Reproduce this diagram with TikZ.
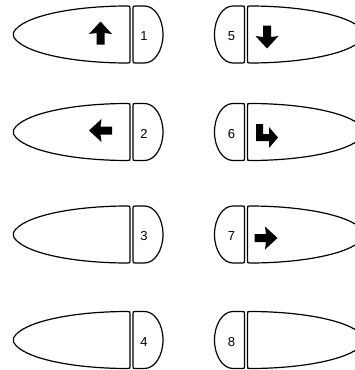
\documentclass[tikz,border=0pt]{standalone}
\usepackage{fontspec}
\setmainfont{Liberation Sans}
\usetikzlibrary{positioning}
\tikzset{
  outline/.style={draw=black, line width=1.2pt, line join=round, fill=white},
  keynum/.style={font=\fontsize{13}{15}\selectfont, inner sep=0pt},
  glyph/.style={fill=black, draw=none},
  pics/keybody/.style={code={
    \draw[outline] (-118,2) .. controls (-110,18) and (-60,28.5) .. (-4,28.5)
      .. controls (-1.5,28.5) .. (-1.5,26) -- (-1.5,-26)
      .. controls (-1.5,-28.5) .. (-4,-28.5)
      .. controls (-60,-28.5) and (-110,-18) .. (-118,-2) -- cycle;
    \draw[outline] (4,28.5) -- (13,28.5)
      arc[start angle=90, end angle=-90, x radius=18.5, y radius=28.5]
      -- (4,-28.5) .. controls (1.5,-28.5) .. (1.5,-26) -- (1.5,26)
      .. controls (1.5,28.5) .. (4,28.5) -- cycle;
  }},
  pics/arrowup/.style={code={
    \fill[glyph] (-4,-11.5) -- (-4,0) -- (-11.5,-1) -- (0,11.5) -- (11.5,-1)
      -- (4,0) -- (4,-11.5) -- cycle;
  }}
}

\begin{document}
\begin{tikzpicture}[x=1pt,y=1pt]
  \useasboundingbox (0,0) rectangle (355,-370);
  \clip (0,0) rectangle (355,-370);
  % keys, left column and mirrored right column
  \foreach \y/\a/\b in {34.5/1/5, 132/2/6, 234.5/3/7, 340/4/8} {
    \pic at (131.5,-\y) {keybody};
    \pic[xscale=-1] at (246,-\y) {keybody};
    \node[keynum] (num\a) at (144,-\y-2) {\a};
    \node[keynum] (num\b) at (231.5,-\y-2) {\b};
  }
  % arrow glyphs
  \pic at (100.5,-33) {arrowup};
  \pic[rotate=90] at (100.5,-130.5) {arrowup};
  \pic[rotate=180] at (267,-37) {arrowup};
  \pic[rotate=-90] at (266,-238) {arrowup};
  \fill[glyph] (256,-124) -- (263,-124) -- (263,-134) -- (269,-134) -- (269,-127)
    -- (278,-137.5) -- (269,-148) -- (269,-141) -- (256,-141) -- cycle;
\end{tikzpicture}
\end{document}
